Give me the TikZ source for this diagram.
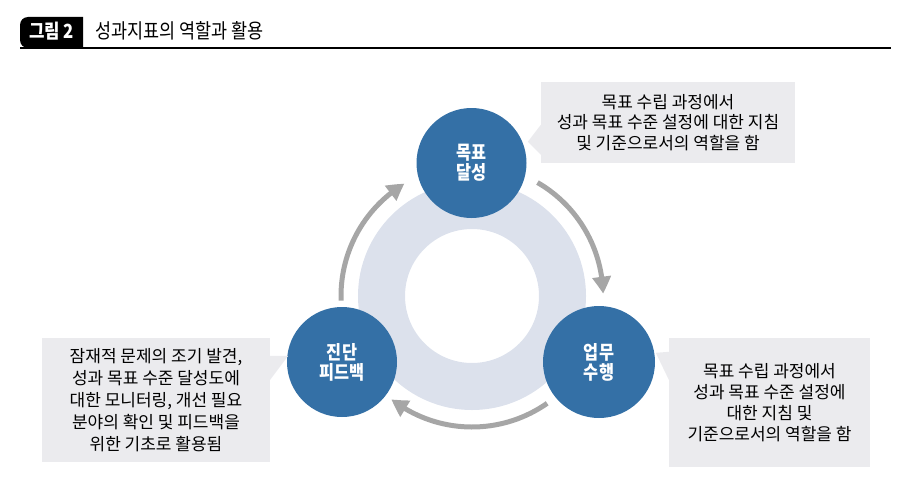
\documentclass[tikz,border=0pt]{standalone}
\usepackage{fontspec}
\setmainfont{Noto Sans CJK KR}
\newfontfamily\krc[FakeStretch=0.86]{Noto Sans CJK KR}
\usetikzlibrary{arrows.meta,bending}
\definecolor{circblue}{HTML}{3470A6}
\definecolor{ringc}{HTML}{DCE1EC}
\definecolor{arrowc}{HTML}{A6A6A6}
\definecolor{boxc}{HTML}{EBEBEE}
\begin{document}
\begin{tikzpicture}[x=1pt,y=1pt,
  stage/.style={circle, fill=circblue, minimum size=110pt, inner sep=0pt, text=white,
    font=\krc\bfseries\fontsize{19}{20}\selectfont, align=center},
  note/.style={fill=boxc, inner sep=0pt, align=center, text=black,
    font=\fontsize{17}{20.5}\selectfont},
  cyc/.style={line width=5pt, draw=arrowc, -{Triangle[length=17pt,width=18pt,bend]}}]
\useasboundingbox (0,0) rectangle (909,483);
% title
\fill (83,435) -- (28,435) arc[start angle=270, end angle=180, radius=8]
  -- (20,458) arc[start angle=180, end angle=90, radius=8] -- (83,466) -- cycle;
\node[anchor=base, text=white, inner sep=0pt, font=\krc\bfseries\fontsize{19.5}{19}\selectfont] (tag) at (51.5,444.5) {그림 2};
\node[anchor=base west, inner sep=0pt, font=\krc\fontsize{20.3}{18}\selectfont] (title) at (95,444) {성과지표의 역할과 활용};
\draw[line width=1.3pt] (20,435) -- (891,435);
% ring
\node[circle, draw=ringc, line width=47pt, minimum size=181pt, inner sep=0pt] (ring) at (472,187) {};
% arrows
\draw[cyc] (ring.center) ++(182:131) arc[start angle=182, end angle=121, radius=131];
\draw[cyc] (ring.center) ++(60:131) arc[start angle=60, end angle=1, radius=131];
\draw[cyc] (ring.center) ++(-55:131) arc[start angle=-55, end angle=-128, radius=131];
% stages
\node[stage] (goal) at (471.5,320) {목표\\달성};
\node[stage, minimum size=112pt] (exec) at (599,121) {업무\\수행};
\node[stage] (diag) at (342,121) {진단\\피드백};
% notes
\node[note, minimum width=254pt, minimum height=81pt] (goalnote) at (668,360.5)
  {목표 수립 과정에서\\성과 목표 수준 설정에 대한 지침\\및 기준으로서의 역할을 함};
\node[note, minimum width=228pt, minimum height=124pt, font=\fontsize{17}{22}\selectfont] (diagnote) at (156,83)
  {잠재적 문제의 조기 발견,\\성과 목표 수준 달성도에\\대한 모니터링, 개선 필요\\분야의 확인 및 피드백을\\위한 기초로 활용됨};
\node[note, minimum width=201pt, minimum height=129pt, font=\fontsize{17}{21}\selectfont] (execnote) at (769.5,80.5)
  {목표 수립 과정에서\\성과 목표 수준 설정에\\대한 지침 및\\기준으로서의 역할을 함};
% pointers
\fill[boxc] ([yshift=-43pt]goalnote.north west) -- ([xshift=-13pt,yshift=-60pt]goalnote.north west)
  -- ([yshift=-73pt]goalnote.north west) -- cycle;
\fill[boxc] ([yshift=-18pt]diagnote.north east) -- ([xshift=18pt,yshift=-18pt]diagnote.north east)
  -- ([yshift=-42pt]diagnote.north east) -- cycle;
\fill[boxc] ([yshift=-14pt]execnote.north west) -- ([xshift=-13pt,yshift=-15pt]execnote.north west)
  -- ([yshift=-42pt]execnote.north west) -- cycle;
\end{tikzpicture}
\end{document}
